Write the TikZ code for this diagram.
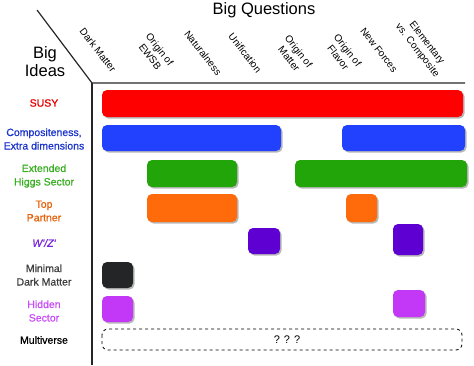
\documentclass[tikz,border=0pt]{standalone}
\usepackage{fontspec}
\setmainfont{Liberation Sans}
\newfontfamily\ideafont[FakeBold=0.8]{Liberation Sans}
\usetikzlibrary{shadows}

\definecolor{susyred}{HTML}{FF0000}
\definecolor{compblue}{HTML}{2141FF}
\definecolor{higgsgreen}{HTML}{22A509}
\definecolor{toporange}{HTML}{FF6B0B}
\definecolor{wzpurple}{HTML}{5E00D2}
\definecolor{dmblack}{HTML}{232526}
\definecolor{hidpink}{HTML}{C238F6}

\begin{document}
\begin{tikzpicture}[x=1pt,y=-1pt,
    bar/.style={rounded corners=5pt,drop shadow={shadow xshift=1.5pt,shadow yshift=-1.5pt,opacity=0.4,fill=black!70}},
    idea/.style={align=center,font=\ideafont\fontsize{10.5}{13.5}\selectfont},
    question/.style={align=center,rotate=-52,font=\fontsize{10}{12}\selectfont}]
    \useasboundingbox (0,0) rectangle (474,365);
    % frame
    \coordinate (slash) at (37,10);
    \coordinate (corner) at (92,83);
    \coordinate (topend) at (465,83);
    \coordinate (botend) at (92,365);
    \draw[line width=1.2pt,black!85](slash)--(corner)--(topend);
    \draw[line width=1.2pt,black!85](corner)--(botend);
    % titles
    \node[font=\fontsize{16.5}{18}\selectfont] (bigq) at (264,10) {Big Questions};
    \node[font=\fontsize{16.5}{18}\selectfont,align=center] (bigi) at (45,62) {Big\\Ideas};
    % questions
    \node[question] (qdm) at (98,50) {Dark Matter};
    \node[question] (qewsb) at (155,53) {Origin of\\EWSB};
    \node[question] (qnat) at (203,53) {Naturalness};
    \node[question] (quni) at (245,53) {Unification};
    \node[question] (qmat) at (294,55) {Origin of\\Matter};
    \node[question] (qfla) at (343,54) {Origin of\\Flavor};
    \node[question] (qnf) at (379,50) {New Forces};
    \node[question] (qec) at (422,47) {Elementary\\vs. Composite};
    % ideas
    \node[idea,text=susyred!90!black] (susy) at (44,103) {SUSY};
    \node[idea,text=compblue!80!black] (comp) at (44,139) {Compositeness,\\Extra dimensions};
    \node[idea,text=higgsgreen!90!white] (higgs) at (44,176) {Extended\\Higgs Sector};
    \node[idea,text=toporange!90!black] (top) at (44,211) {Top\\Partner};
    \node[idea,text=wzpurple!85!white] (wz) at (44,243) {\itshape W'/Z'};
    \node[idea,text=black!75] (mdm) at (44,275) {Minimal\\Dark Matter};
    \node[idea,text=hidpink!90!white] (hid) at (44,311) {Hidden\\Sector};
    \node[idea] (multi) at (44,340) {Multiverse};
    % bars
    \fill[bar,susyred](102,90) rectangle (463,117);
    \fill[bar,compblue](102,125) rectangle (281,151);
    \fill[bar,compblue](342,125) rectangle (465,151);
    \fill[bar,higgsgreen](147,160) rectangle (237,187);
    \fill[bar,higgsgreen](295,160) rectangle (467,187);
    \fill[bar,toporange](147,194) rectangle (237,222);
    \fill[bar,toporange](346,194) rectangle (377,222);
    \fill[bar,wzpurple](248,228) rectangle (280,254);
    \fill[bar,wzpurple](393,224) rectangle (423,255);
    \fill[bar,dmblack](102,262) rectangle (133,288);
    \fill[bar,hidpink](102,296) rectangle (133,322);
    \fill[bar,hidpink](393,290) rectangle (425,317);
    \draw[dashed,thick,rounded corners=6pt](102,329) rectangle (462,350);
    \node[font=\fontsize{11}{13}\selectfont] (qqq) at (287,340) {? ? ?};
\end{tikzpicture}
\end{document}
